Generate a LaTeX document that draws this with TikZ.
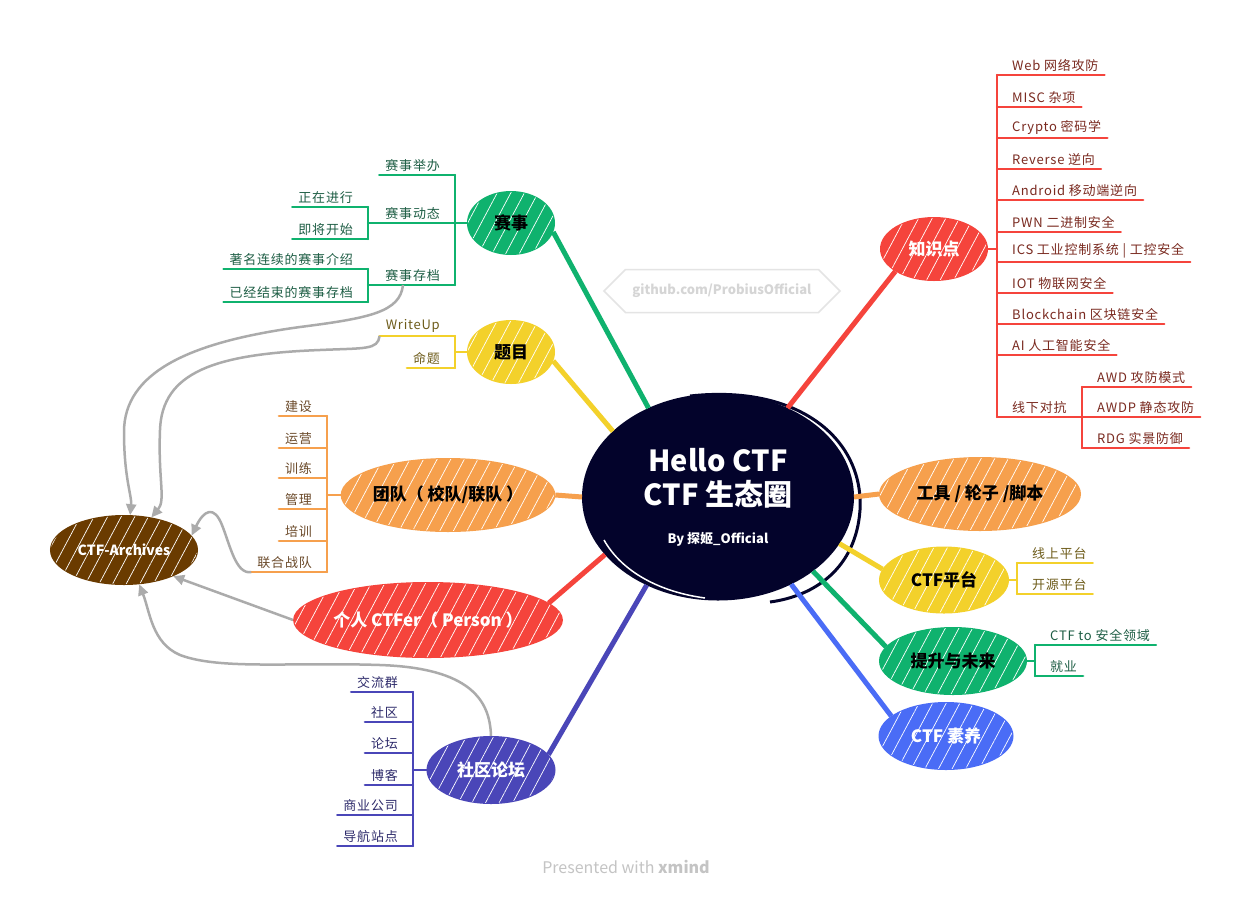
\documentclass[tikz,border=0pt]{standalone}
\usepackage{fontspec}
\setmainfont{Noto Sans CJK SC}
\newfontfamily\subfont{Noto Sans CJK SC}[LetterSpace=6]
\usetikzlibrary{arrows.meta,positioning,shapes.geometric,shapes.symbols,patterns.meta}
\definecolor{MindGreen}{HTML}{0FB26E}
\definecolor{MindYellow}{HTML}{F3D12B}
\definecolor{MindOrange}{HTML}{F6A04D}
\definecolor{MindRed}{HTML}{F5443C}
\definecolor{MindIndigo}{HTML}{4A46B8}
\definecolor{MindBlue}{HTML}{4A6CF6}
\definecolor{ArchBrown}{HTML}{6A3B00}
\definecolor{NavyCore}{HTML}{03032B}
\definecolor{LinkGray}{HTML}{ABABAB}
\definecolor{WaterGray}{HTML}{E4E4E4}
\definecolor{FootGray}{HTML}{C4C4C4}
\definecolor{GreenText}{HTML}{1E5E45}
\definecolor{OliveText}{HTML}{6E5C1A}
\definecolor{BrownText}{HTML}{6B4A2A}
\definecolor{RedText}{HTML}{7A2A20}
\definecolor{IndigoText}{HTML}{2E2B6B}

\begin{document}
\begin{tikzpicture}[x=1pt,y=-1pt,font=\fontsize{13}{15}\selectfont,
bubble/.style={ellipse,draw=#1,fill=#1,line width=2pt,inner sep=0pt},
topic/.style={bubble=#1,font=\fontsize{17}{19}\selectfont\bfseries,
  postaction={fill opacity=0.35,pattern={Lines[angle=62,distance=12pt,line width=0.7pt]},pattern color=white}},
branch/.style={line width=5pt,draw=#1},
spine/.style={line width=2.2pt,draw=#1,line cap=round},
subL/.style={anchor=south east,inner xsep=6pt,inner ysep=3.5pt,font=\subfont\fontsize{13}{15}\selectfont},
subR/.style={anchor=south west,inner xsep=6pt,inner ysep=3.5pt,font=\subfont\fontsize{13}{15}\selectfont},
link/.style={draw=LinkGray,line width=2.5pt,-{Triangle[length=11pt,width=10pt]}}]
\useasboundingbox[fill=white] (0,0) rectangle (1251,898);

% watermark and footer
\node[shape=signal,signal to=west and east,draw=WaterGray,line width=1.5pt,text=WaterGray!85!gray,
  font=\fontsize{13}{15}\selectfont\bfseries,minimum width=236pt,minimum height=43pt] (gh) at (722,291) {github.com/ProbiusOfficial};
\node[text=FootGray,font=\fontsize{16}{18}\selectfont] (foot) at (626,867) {Presented with \textbf{xmind}};

% central topic
\node[bubble=NavyCore,minimum width=270pt,minimum height=205pt,text=white,align=center,
  font=\fontsize{29}{34}\selectfont\bfseries] (core) at (718,497)
  {Hello CTF\\CTF 生态圈\\[4pt]{\fontsize{13}{15}\selectfont By 探姬\_Official}};
\draw[NavyCore,line width=3pt] (690,396) .. controls (800,384) and (864,440) .. (860,510) .. controls (856,568) and (815,596) .. (770,602);
\draw[white,line width=1.5pt] (604,540) .. controls (622,572) and (660,592) .. (705,598);

% main topics
\node[topic=MindGreen,minimum width=86pt,minimum height=62pt] (race) at (511,223) {赛事};
\node[topic=MindYellow,minimum width=86pt,minimum height=62pt] (prob) at (511,352) {题目};
\node[topic=MindOrange,minimum width=212pt,minimum height=72pt] (team) at (448,495) {团队（ 校队/联队 ）};
\node[topic=MindRed,minimum width=256pt,minimum height=74pt,text=white] (pers) at (428,620) {个人 CTFer（ Person ）};
\node[topic=MindIndigo,minimum width=127pt,minimum height=66pt,text=white] (comm) at (491,770) {社区论坛};
\node[topic=MindRed,minimum width=106pt,minimum height=62pt,text=white] (know) at (934,249) {知识点};
\node[topic=MindOrange,minimum width=200pt,minimum height=72pt] (tool) at (980,494) {工具 / 轮子 /脚本};
\node[topic=MindYellow,minimum width=128pt,minimum height=65pt] (plat) at (944,580) {CTF平台};
\node[topic=MindGreen,minimum width=146pt,minimum height=66pt] (grow) at (953,661) {提升与未来};
\node[topic=MindBlue,minimum width=133pt,minimum height=66pt,text=white] (qual) at (946,736) {CTF 素养};
\node[topic=ArchBrown,minimum width=146pt,minimum height=68pt,text=white,font=\fontsize{14}{16}\selectfont\bfseries] (arch) at (124,550) {CTF-Archives};

\draw[branch=MindGreen] (core.128) -- (race.-12);
\draw[branch=MindYellow] (core.148) -- (prob.-12);
\draw[branch=MindOrange] (core.west) -- (team.east);
\draw[branch=MindRed] (core.-153) -- (pers.8);
\draw[branch=MindIndigo] (core.-129) -- (comm.15);
\draw[branch=MindRed] (core.52) -- (know.-150);
\draw[branch=MindOrange] (core.east) -- (tool.west);
\draw[branch=MindYellow] (core.-21) -- (plat.170);
\draw[branch=MindGreen] (core.-38) -- (grow.168);
\draw[branch=MindBlue] (core.-50) -- (qual.160);

% 赛事
\coordinate (rsp) at (455,223);
\node[subL,text=GreenText] (r1) at (446,175) {赛事举办};
\node[subL,text=GreenText] (r2) at (446,223) {赛事动态};
\node[subL,text=GreenText] (r3) at (446,285) {赛事存档};
\coordinate (dsp) at (368,223);
\node[subL,text=GreenText] (r21) at (359,207) {正在进行};
\node[subL,text=GreenText] (r22) at (359,239) {即将开始};
\coordinate (asp) at (368,285);
\node[subL,text=GreenText] (r31) at (359,269) {著名连续的赛事介绍};
\node[subL,text=GreenText] (r32) at (359,302) {已经结束的赛事存档};
\foreach \n in {r1,r2,r3} \draw[spine=MindGreen] (\n.south west) -- (\n.south east -| rsp);
\draw[spine=MindGreen] (r1.south east -| rsp) -- (r3.south east -| rsp);
\draw[spine=MindGreen] (race.west) -- (rsp);
\foreach \n in {r21,r22} \draw[spine=MindGreen] (\n.south west) -- (\n.south east -| dsp);
\draw[spine=MindGreen] (r21.south east -| dsp) -- (r22.south east -| dsp);
\draw[spine=MindGreen] (r2.south west) -- (dsp);
\foreach \n in {r31,r32} \draw[spine=MindGreen] (\n.south west) -- (\n.south east -| asp);
\draw[spine=MindGreen] (r31.south east -| asp) -- (r32.south east -| asp);
\draw[spine=MindGreen] (r3.south west) -- (asp);

% 题目
\coordinate (qsp) at (455,352);
\node[subL,text=OliveText] (q1) at (446,336) {WriteUp};
\node[subL,text=OliveText] (q2) at (446,368) {命题};
\foreach \n in {q1,q2} \draw[spine=MindYellow] (\n.south west) -- (\n.south east -| qsp);
\draw[spine=MindYellow] (q1.south east -| qsp) -- (q2.south east -| qsp);
\draw[spine=MindYellow] (prob.west) -- (qsp);

% 团队
\coordinate (tsp) at (327,495);
\node[subL,text=BrownText] (t1) at (318,416) {建设};
\node[subL,text=BrownText] (t2) at (318,448) {运营};
\node[subL,text=BrownText] (t3) at (318,478) {训练};
\node[subL,text=BrownText] (t4) at (318,509) {管理};
\node[subL,text=BrownText] (t5) at (318,541) {培训};
\node[subL,text=BrownText] (t6) at (318,572) {联合战队};
\foreach \n in {t1,t2,t3,t4,t5,t6} \draw[spine=MindOrange] (\n.south west) -- (\n.south east -| tsp);
\draw[spine=MindOrange] (t1.south east -| tsp) -- (t6.south east -| tsp);
\draw[spine=MindOrange] (team.west) -- (tsp);

% 社区论坛
\coordinate (csp) at (413,770);
\node[subL,text=IndigoText] (c1) at (404,692) {交流群};
\node[subL,text=IndigoText] (c2) at (404,722) {社区};
\node[subL,text=IndigoText] (c3) at (404,753) {论坛};
\node[subL,text=IndigoText] (c4) at (404,785) {博客};
\node[subL,text=IndigoText] (c5) at (404,815) {商业公司};
\node[subL,text=IndigoText] (c6) at (404,846) {导航站点};
\foreach \n in {c1,c2,c3,c4,c5,c6} \draw[spine=MindIndigo] (\n.south west) -- (\n.south east -| csp);
\draw[spine=MindIndigo] (c1.south east -| csp) -- (c6.south east -| csp);
\draw[spine=MindIndigo] (comm.west) -- (csp);

% 知识点
\coordinate (ksp) at (997,249);
\node[subR,text=RedText] (k1) at (1006,75) {Web 网络攻防};
\node[subR,text=RedText] (k2) at (1006,107) {MISC 杂项};
\node[subR,text=RedText] (k3) at (1006,138) {Crypto 密码学};
\node[subR,text=RedText] (k4) at (1006,169) {Reverse 逆向};
\node[subR,text=RedText] (k5) at (1006,200) {Android 移动端逆向};
\node[subR,text=RedText] (k6) at (1006,232) {PWN 二进制安全};
\node[subR,text=RedText] (k7) at (1006,262) {ICS 工业控制系统 | 工控安全};
\node[subR,text=RedText] (k8) at (1006,293) {IOT 物联网安全};
\node[subR,text=RedText] (k9) at (1006,324) {Blockchain 区块链安全};
\node[subR,text=RedText] (k10) at (1006,355) {AI 人工智能安全};
\node[subR,text=RedText] (k11) at (1006,417) {线下对抗};
\foreach \n in {k1,k2,k3,k4,k5,k6,k7,k8,k9,k10} \draw[spine=MindRed] (\n.south west -| ksp) -- (\n.south east);
\draw[spine=MindRed] (k1.south west -| ksp) -- (k11.south west -| ksp);
\draw[spine=MindRed] (know.east) -- (ksp);
\coordinate (osp) at (1082,417);
\node[subR,text=RedText] (o1) at (1091,387) {AWD 攻防模式};
\node[subR,text=RedText] (o2) at (1091,417) {AWDP 静态攻防};
\node[subR,text=RedText] (o3) at (1091,448) {RDG 实景防御};
\draw[spine=MindRed] (k11.south west -| ksp) -- (osp);
\foreach \n in {o1,o2,o3} \draw[spine=MindRed] (\n.south west -| osp) -- (\n.south east);
\draw[spine=MindRed] (o1.south west -| osp) -- (o3.south west -| osp);

% CTF平台
\coordinate (psp) at (1017,580);
\node[subR,text=OliveText] (p1) at (1026,563) {线上平台};
\node[subR,text=OliveText] (p2) at (1026,594) {开源平台};
\foreach \n in {p1,p2} \draw[spine=MindYellow] (\n.south west -| psp) -- (\n.south east);
\draw[spine=MindYellow] (p1.south west -| psp) -- (p2.south west -| psp);
\draw[spine=MindYellow] (plat.east) -- (psp);

% 提升与未来
\coordinate (gsp) at (1035,661);
\node[subR,text=GreenText] (g1) at (1044,645) {CTF to 安全领域};
\node[subR,text=GreenText] (g2) at (1044,676) {就业};
\foreach \n in {g1,g2} \draw[spine=MindGreen] (\n.south west -| gsp) -- (\n.south east);
\draw[spine=MindGreen] (g1.south west -| gsp) -- (g2.south west -| gsp);
\draw[spine=MindGreen] (grow.east) -- (gsp);

% links to CTF-Archives
\coordinate (a1) at (403,285);
\draw[link] (a1) .. controls (400,312) and (370,318) .. (300,327) .. controls (190,342) and (124,372) .. (124,432) .. controls (124,478) and (132,496) .. (arch.80);
\draw[link] (q1.south west) .. controls (378,350) and (365,348) .. (320,350) .. controls (215,354) and (162,372) .. (160,430) .. controls (158,480) and (166,500) .. (arch.50);
\draw[link] (t6.south west) .. controls (236,575) and (230,545) .. (222,525) .. controls (214,505) and (204,510) .. (arch.12);
\draw[link] (pers.west) -- (arch.-28);
\draw[link] (comm.north) .. controls (490,700) and (470,668) .. (380,665) .. controls (290,662) and (220,670) .. (180,655) .. controls (152,643) and (150,612) .. (arch.-66);
\end{tikzpicture}
\end{document}
